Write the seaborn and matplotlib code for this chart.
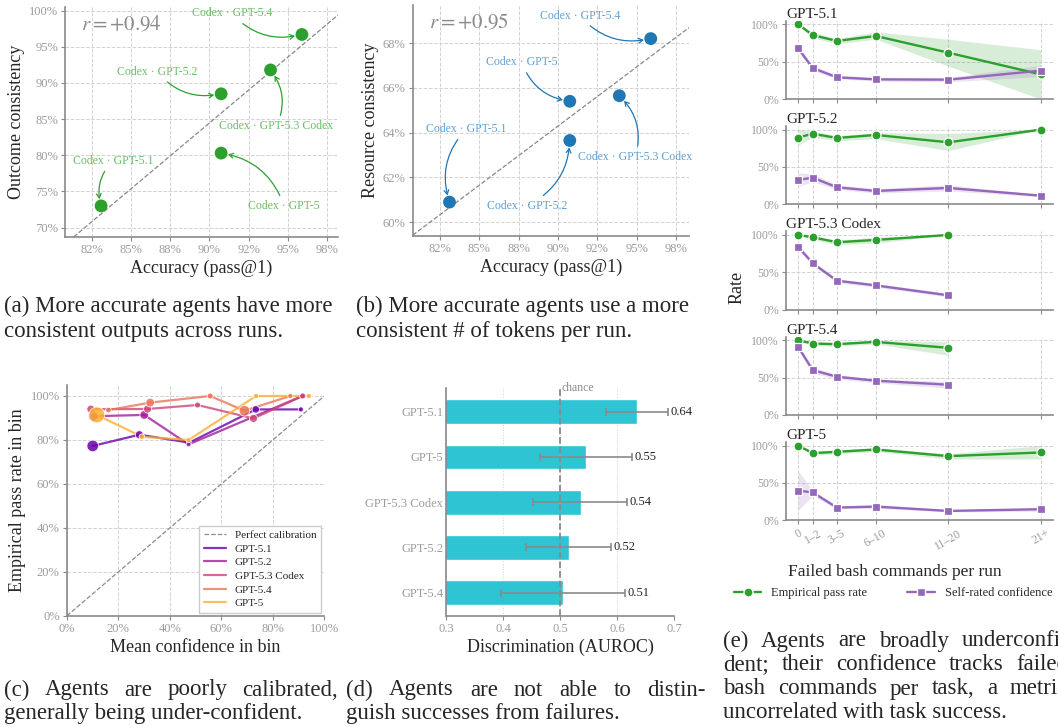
import numpy as np
import pandas as pd
import matplotlib.pyplot as plt
import matplotlib.transforms as mtransforms
from matplotlib.lines import Line2D
from matplotlib.ticker import PercentFormatter
import seaborn as sns

# ---------------------------------------------------------------- data
MODELS = ['GPT-5.1', 'GPT-5.2', 'GPT-5.3 Codex', 'GPT-5.4', 'GPT-5']

# (a) / (b) consistency vs accuracy, percent, MODELS order
ACCURACY = [83.1, 90.75, 93.9, 95.9, 90.75]
OUTCOME_CONSISTENCY = [73.0, 88.5, 91.8, 96.7, 80.3]
RESOURCE_CONSISTENCY = [60.9, 63.65, 65.65, 68.2, 65.4]

# (c) reliability diagram, one list per model (MODELS order)
CAL_CONFIDENCE = [
    [10.1, 28.2, 47.6, 73.4, 90.9],
    [10.3, 30.1, 47.3, 91.5],
    [9.4, 31.4, 50.8, 72.5, 91.6],
    [16.2, 32.4, 55.7, 69.0, 86.8],
    [11.7, 29.2, 47.3, 73.5, 94.0],
]
CAL_PASS = [
    [77.3, 82.4, 78.8, 93.9, 93.9],
    [90.8, 91.4, 78.0, 100.0],
    [94.0, 94.1, 95.9, 89.8, 100.0],
    [93.6, 97.0, 100.0, 93.3, 100.0],
    [91.4, 81.5, 80.0, 100.0, 100.0],
]
CAL_COUNT = [
    [60, 25, 5, 20, 5],
    [40, 30, 4, 6],
    [25, 25, 10, 25, 10],
    [8, 30, 10, 50, 5],
    [120, 8, 5, 5, 5],
]

# (d) discrimination
AUROC_MODELS = ['GPT-5.1', 'GPT-5', 'GPT-5.3 Codex', 'GPT-5.2', 'GPT-5.4']
AUROC = [0.635, 0.546, 0.536, 0.516, 0.506]
AUROC_LO = [0.580, 0.465, 0.453, 0.440, 0.397]
AUROC_HI = [0.689, 0.627, 0.618, 0.590, 0.614]

# (e) failed bash commands, percent, MODELS order
BIN_LABELS = ['0', '1–2', '3–5', '6–10', '11–20', '21+']
BIN_MID = [0, 1.5, 4, 8, 15.5, 25]
N = None
PASS_RATE = [
    [100, 85.7, 77.7, 84.4, 62.0, 33.0],
    [89.3, 94.6, 88.8, 92.9, 83.0, 100],
    [100, 96.9, 90.2, 93.3, 100, N],
    [100, 95.6, 94.7, 97.8, 89.8, N],
    [100, 89.8, 91.6, 94.7, 85.8, 90.7],
]
PASS_LO = [
    [99, 82, 74, 80, 44, 0],
    [79, 90, 85, 88, 72, 100],
    [100, 94, 87, 89, 100, N],
    [100, 93, 92, 95, 80, N],
    [100, 87, 89, 92, 82, 82],
]
PASS_HI = [
    [100, 89, 81, 90, 80, 66],
    [100, 98, 92, 96, 95, 100],
    [100, 99, 93, 97, 100, N],
    [100, 98, 97, 100, 98, N],
    [100, 93, 94, 97, 89, 100],
]
CONFIDENCE = [
    [67.9, 41.5, 29.0, 26.3, 25.9, 38.0],
    [32.6, 35.7, 22.8, 17.9, 21.9, 11.6],
    [84.0, 62.2, 38.7, 32.4, 19.1, N],
    [91.1, 60.0, 51.1, 45.8, 40.4, N],
    [39.6, 37.3, 16.9, 18.2, 12.4, 14.7],
]
CONF_LO = [
    [64, 38, 27, 24, 23, 30],
    [24, 30, 20, 15, 18, 10],
    [81, 59, 36, 30, 17, N],
    [88, 56, 48, 43, 36, N],
    [13, 33, 15, 16, 11, 12],
]
CONF_HI = [
    [72, 45, 32, 29, 29, 45],
    [42, 41, 26, 21, 26, 13],
    [87, 65, 41, 35, 22, N],
    [94, 64, 54, 48, 45, N],
    [66, 40, 19, 21, 14, 17],
]

# ---------------------------------------------------------------- style
W, H = 1058, 727
PT = 72 / 100  # px -> points at dpi 100

GREEN = '#2ca02c'
BLUE = '#1f77b4'
PURPLE = '#9467bd'
CYAN = '#2ec4d4'
TICK = '#9c9c9c'
SPINE = '#8a8a8a'

sns.set_theme(style='ticks')
plt.rcParams['font.family'] = ['Liberation Serif', 'DejaVu Serif']
plt.rcParams['mathtext.fontset'] = 'stix'

fig = plt.figure(figsize=(W / 100, H / 100), dpi=100)


def box(left, top, right, bottom):
    return [left / W, 1 - bottom / H, (right - left) / W, (bottom - top) / H]


def style(ax, grid_axis='both', ls='--'):
    sns.despine(ax=ax)
    for s in ('left', 'bottom'):
        ax.spines[s].set_color(SPINE)
        ax.spines[s].set_linewidth(1.2)
    ax.tick_params(colors=SPINE, labelcolor=TICK, labelsize=9, length=3, width=0.8, pad=2)
    ax.grid(axis=grid_axis, color='#d2d2d2', linestyle=ls, linewidth=0.7)
    ax.set_axisbelow(True)


def scatter_panel(ax, yvals, color, label_color, offsets, ylabel):
    df = pd.DataFrame({'model': MODELS, 'acc': ACCURACY, 'val': yvals})
    m, b = np.polyfit(df['acc'], df['val'], 1)
    r = np.corrcoef(df['acc'], df['val'])[0, 1]
    ax.axline((0, b), slope=m, color='#888888', ls='--', lw=0.9, zorder=1)
    sns.scatterplot(data=df, x='acc', y='val', color=color, s=85, edgecolor='none', ax=ax, zorder=3)
    for name, x, y, (dx, dy) in zip(MODELS, ACCURACY, yvals, offsets):
        ax.annotate(f'Codex · {name}', xy=(x, y), xytext=(dx * PT, dy * PT),
                    textcoords='offset points', ha='center', va='center',
                    fontsize=8.5, color=label_color,
                    arrowprops=dict(arrowstyle='->,head_length=0.35,head_width=0.2',
                                    color=color, lw=0.9, shrinkA=1, shrinkB=5,
                                    connectionstyle='arc3,rad=0.3'))
    ax.text(0.06, 0.92, rf'$r = {r:+.2f}$', transform=ax.transAxes,
            fontsize=15, color='#8c8c8c', va='center')
    ax.xaxis.set_major_formatter(PercentFormatter(decimals=0))
    ax.yaxis.set_major_formatter(PercentFormatter(decimals=0))
    ax.set_xticks(np.arange(82.5, 98.6, 2.5))
    ax.set_xlabel('Accuracy (pass@1)', fontsize=13, labelpad=3)
    ax.set_ylabel(ylabel, fontsize=13, labelpad=3)
    style(ax)


# ---------------------------------------------------------------- (a)
ax_a = fig.add_axes(box(65, 7, 338, 237))
scatter_panel(ax_a, OUTCOME_CONSISTENCY, GREEN, '#66bf66',
              [(12, 45), (-64, 22), (6, -56), (-70, 21), (63, -53)],
              'Outcome consistency')
ax_a.set_xlim(80.8, 98.2)
ax_a.set_ylim(68.7, 100.5)
ax_a.set_yticks(np.arange(70, 101, 5))

# ---------------------------------------------------------------- (b)
ax_b = fig.add_axes(box(412.7, 5, 689.3, 235.7))
scatter_panel(ax_b, RESOURCE_CONSISTENCY, BLUE, '#5fa0d2',
              [(17, 73), (-43, -65), (16, -61), (-71, 23), (-48, 39)],
              'Resource consistency')
ax_b.set_xlim(80.76, 98.35)
ax_b.set_ylim(59.4, 69.7)
ax_b.set_yticks(np.arange(60, 69, 2))

# ---------------------------------------------------------------- (c)
ax_c = fig.add_axes(box(66.7, 385, 324.3, 616))
plasma = plt.get_cmap('plasma')
cal_colors = dict(zip(MODELS, [plasma(p) for p in (0.2, 0.35, 0.5, 0.65, 0.82)]))
rows = []
for name, cs, ps, ns in zip(MODELS, CAL_CONFIDENCE, CAL_PASS, CAL_COUNT):
    for c, p, n in zip(cs, ps, ns):
        rows.append({'model': name, 'conf': c, 'pass': p, 'n': n})
df_c = pd.DataFrame(rows)
ax_c.axline((0, 0), slope=1, color='#8c8c8c', ls='--', lw=0.9, zorder=1)
sns.lineplot(data=df_c, x='conf', y='pass', hue='model', palette=cal_colors,
             sort=False, estimator=None, lw=1.6, alpha=0.8, legend=False, ax=ax_c)
sns.scatterplot(data=df_c, x='conf', y='pass', hue='model', palette=cal_colors,
                size='n', sizes=(8, 130), size_norm=(0, 120), alpha=0.85,
                edgecolor='white', linewidth=0.6, legend=False, ax=ax_c, zorder=3)
ax_c.set_xlim(0, 100)
ax_c.set_ylim(0, 105)
ax_c.set_xticks(np.arange(0, 101, 20))
ax_c.set_yticks(np.arange(0, 101, 20))
ax_c.xaxis.set_major_formatter(PercentFormatter(decimals=0))
ax_c.yaxis.set_major_formatter(PercentFormatter(decimals=0))
ax_c.set_xlabel('Mean confidence in bin', fontsize=13, labelpad=3)
ax_c.set_ylabel('Empirical pass rate in bin', fontsize=13, labelpad=3)
style(ax_c)
handles = [Line2D([], [], color='#8c8c8c', ls='--', lw=0.9)]
handles += [Line2D([], [], color=cal_colors[m], lw=1.6, alpha=0.8) for m in MODELS]
ax_c.legend(handles, ['Perfect calibration'] + MODELS, loc='lower right',
            fontsize=8, frameon=True, fancybox=False, edgecolor='#cccccc',
            framealpha=1, borderaxespad=0.3, handlelength=2.0, labelspacing=0.35)

# ---------------------------------------------------------------- (d)
ax_d = fig.add_axes(box(446, 388.3, 674, 616))
df_d = pd.DataFrame({'model': AUROC_MODELS, 'auroc': AUROC})
sns.barplot(data=df_d, x='auroc', y='model', color=CYAN, saturation=1, width=0.55,
            edgecolor='white', linewidth=1, ax=ax_d)
auroc = np.array(AUROC)
ax_d.errorbar(auroc, np.arange(len(auroc)),
              xerr=[auroc - np.array(AUROC_LO), np.array(AUROC_HI) - auroc],
              fmt='none', ecolor='#8a8a8a', elinewidth=1.2, capsize=3, capthick=1.2)
for i, (a, hi) in enumerate(zip(AUROC, AUROC_HI)):
    ax_d.text(hi + 0.004, i, f'{a:.2f}', va='center', ha='left', fontsize=9, color='#222222')
ax_d.axvline(0.5, color='#8a8a8a', ls='--', lw=1.3, zorder=2)
trans = mtransforms.blended_transform_factory(ax_d.transData, ax_d.transAxes)
ax_d.text(0.502, 1.0, 'chance', transform=trans, ha='left', va='center',
          fontsize=8.5, color='#8c8c8c')
ax_d.set_xlim(0.3, 0.7)
ax_d.set_ylim(4.52, -0.52)
ax_d.set_xticks(np.arange(0.3, 0.71, 0.1))
ax_d.set_xlabel('Discrimination (AUROC)', fontsize=13, labelpad=3)
ax_d.set_ylabel('')
style(ax_d, grid_axis='x', ls=':')
ax_d.tick_params(axis='y', length=0)

# ---------------------------------------------------------------- (e)
pct = lambda v: np.array([np.nan if x is None else x for x in v], dtype=float)
for i, name in enumerate(MODELS):
    top = 20.6 + 105.3 * i
    ax = fig.add_axes(box(786, top, 1052.7, top + 78.4))
    ax.fill_between(BIN_MID, pct(PASS_LO[i]), pct(PASS_HI[i]), color=GREEN, alpha=0.18, lw=0)
    ax.fill_between(BIN_MID, pct(CONF_LO[i]), pct(CONF_HI[i]), color=PURPLE, alpha=0.18, lw=0)
    df = pd.DataFrame({'x': BIN_MID, 'pass': pct(PASS_RATE[i]), 'conf': pct(CONFIDENCE[i])})
    sns.lineplot(data=df, x='x', y='pass', color=GREEN, marker='o', markersize=6.5,
                 markeredgecolor='white', markeredgewidth=0.9, lw=1.7, ax=ax)
    sns.lineplot(data=df, x='x', y='conf', color=PURPLE, marker='s', markersize=6,
                 markeredgecolor='white', markeredgewidth=0.9, lw=1.7, ax=ax)
    ax.set_xlim(-1.25, 26.25)
    ax.set_ylim(0, 105)
    ax.set_yticks([0, 50, 100])
    ax.yaxis.set_major_formatter(PercentFormatter(decimals=0))
    ax.set_xticks(BIN_MID)
    ax.set_xlabel('')
    ax.set_ylabel('')
    ax.set_title(name, loc='left', fontsize=11, pad=2)
    style(ax)
    ax.tick_params(labelsize=8.5)
    if i < len(MODELS) - 1:
        ax.tick_params(axis='x', labelbottom=False)
    else:
        ax.set_xticklabels(BIN_LABELS, rotation=30, ha='center')

fig.text(737 / W, 1 - 287 / H, 'Rate', rotation=90, ha='center', va='center', fontsize=13)
fig.text(895 / W, 1 - 572 / H, 'Failed bash commands per run', ha='center', va='center', fontsize=12.5)
leg_handles = [
    Line2D([], [], color=GREEN, marker='o', markersize=6.5, markeredgecolor='white', lw=1.7),
    Line2D([], [], color=PURPLE, marker='s', markersize=6, markeredgecolor='white', lw=1.7),
]
fig.legend(leg_handles, ['Empirical pass rate', 'Self-rated confidence'], loc='center',
           bbox_to_anchor=(893 / W, 1 - 593 / H), ncol=2, frameon=False, fontsize=9,
           handlelength=2.2, columnspacing=3.2)

# ---------------------------------------------------------------- captions
renderer = fig.canvas.get_renderer()


def caption(lines, x0, x1, y0, step, justify, size=16.5):
    for k, line in enumerate(lines):
        y = 1 - (y0 + k * step) / H
        if not justify[k]:
            fig.text(x0 / W, y, line, fontsize=size, va='center', ha='left')
            continue
        words = line.split(' ')
        arts = [fig.text(0, y, w, fontsize=size, va='center', ha='left') for w in words]
        widths = [a.get_window_extent(renderer).width for a in arts]
        gap = (x1 - x0 - sum(widths)) / (len(words) - 1)
        x = x0
        for a, w in zip(arts, widths):
            a.set_x(x / W)
            x += w + gap


caption(['(a) More accurate agents have more', 'consistent outputs across runs.'],
        4, 338, 306, 25, [False, False])
caption(['(b) More accurate agents use a more', 'consistent # of tokens per run.'],
        356, 690, 306, 25, [False, False])
caption(['(c) Agents are poorly calibrated,', 'generally being under-confident.'],
        4, 338, 690, 24, [True, False])
caption(['(d) Agents are not able to distin-', 'guish successes from failures.'],
        346, 706, 690, 24, [True, False])
caption(['(e) Agents are broadly underconfi-', 'dent; their confidence tracks failed',
         'bash commands per task, a metric', 'uncorrelated with task success.'],
        723, 1068, 641, 24, [True, True, True, False])

fig.savefig('out.png', dpi=100)
